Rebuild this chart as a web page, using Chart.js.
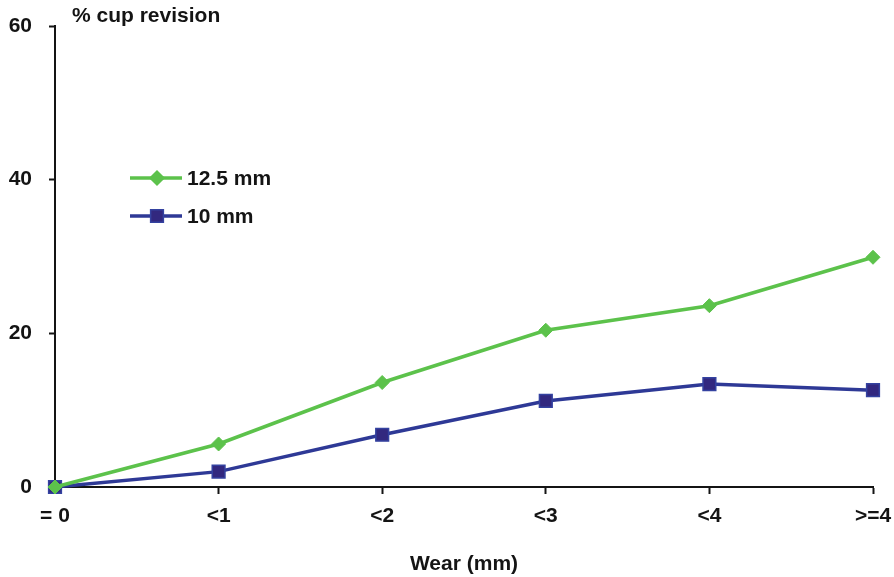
<!DOCTYPE html>
<html>
<head>
<meta charset="utf-8">
<script src="https://cdn.jsdelivr.net/npm/chart.js@4/dist/chart.umd.min.js"></script>
<style>
  html, body { margin: 0; padding: 0; background: #ffffff; }
  #wrap { width: 894px; height: 577px; position: relative; }
</style>
</head>
<body>
<div id="wrap"><canvas id="c" width="894" height="577"></canvas></div>
<script>
// Wear categories along the x axis
const wearCategories = ['= 0', '<1', '<2', '<3', '<4', '>=4'];
// Percentage of cups revised, per head size
const revision125 = [0, 5.6, 13.6, 20.4, 23.6, 29.9];
const revision10 = [0, 2.0, 6.8, 11.2, 13.4, 12.6];
// Y axis tick values
const yTicks = [0, 20, 40, 60];

const seriesNames = ['12.5 mm', '10 mm'];
const yTitle = '% cup revision';
const xTitle = 'Wear (mm)';

const FONT = '"Liberation Sans", Arial, Helvetica, sans-serif';
const TEXT = '#141414';
const GREEN = '#5cc24b';
const BLUE_LINE = '#2e3996';
const BLUE_FILL = '#32287f';
const BLUE_EDGE = '#3442a0';

// Titles and the inset legend
const annotations = {
  id: 'annotations',
  afterDraw(chart) {
    const ctx = chart.ctx;
    ctx.save();
    ctx.fillStyle = TEXT;
    ctx.font = 'bold 21px ' + FONT;
    ctx.textBaseline = 'alphabetic';
    ctx.textAlign = 'left';
    ctx.fillText(yTitle, 72, 22);
    ctx.textAlign = 'center';
    const xs = chart.scales.x;
    ctx.fillText(xTitle, (xs.left + xs.right) / 2, 570);

    // legend entries
    const entries = [
      { name: seriesNames[0], y: 178, color: GREEN, style: 'rectRot', fill: GREEN, edge: GREEN, r: 7 },
      { name: seriesNames[1], y: 216, color: BLUE_LINE, style: 'rect', fill: BLUE_FILL, edge: BLUE_EDGE, r: 9 }
    ];
    entries.forEach(e => {
      ctx.strokeStyle = e.color;
      ctx.lineWidth = 3.5;
      ctx.beginPath();
      ctx.moveTo(130, e.y);
      ctx.lineTo(182, e.y);
      ctx.stroke();
      ctx.fillStyle = e.fill;
      ctx.strokeStyle = e.edge;
      ctx.lineWidth = 1.5;
      Chart.helpers.drawPoint(ctx, { pointStyle: e.style, radius: e.r, borderWidth: 1.5, rotation: 0 }, 157, e.y);
      ctx.fillStyle = TEXT;
      ctx.font = 'bold 21px ' + FONT;
      ctx.textAlign = 'left';
      ctx.textBaseline = 'middle';
      ctx.fillText(e.name, 187, e.y + 1);
    });
    ctx.restore();
  }
};

new Chart(document.getElementById('c'), {
  type: 'line',
  data: {
    labels: wearCategories,
    datasets: [
      {
        label: seriesNames[0],
        data: revision125,
        borderColor: GREEN,
        backgroundColor: GREEN,
        borderWidth: 3.5,
        pointStyle: 'rectRot',
        pointRadius: 7,
        pointBorderWidth: 1,
        pointBackgroundColor: GREEN,
        pointBorderColor: GREEN,
        tension: 0,
        clip: false
      },
      {
        label: seriesNames[1],
        data: revision10,
        borderColor: BLUE_LINE,
        backgroundColor: BLUE_FILL,
        borderWidth: 3.5,
        pointStyle: 'rect',
        pointRadius: 9,
        pointBorderWidth: 1.5,
        pointBackgroundColor: BLUE_FILL,
        pointBorderColor: BLUE_EDGE,
        tension: 0,
        clip: false
      }
    ]
  },
  options: {
    responsive: false,
    animation: false,
    devicePixelRatio: 1,
    layout: { padding: { left: 0, right: 21, top: 26, bottom: 0 } },
    plugins: {
      legend: { display: false },
      tooltip: { enabled: false }
    },
    scales: {
      x: {
        offset: false,
        afterFit(scale) {
          scale.height = 90;
          scale.paddingLeft = 0;
          scale.paddingRight = 0;
        },
        grid: {
          drawOnChartArea: false,
          drawTicks: true,
          tickLength: 7,
          tickWidth: 2,
          tickColor: TEXT
        },
        border: { display: true, color: TEXT, width: 2 },
        ticks: {
          color: TEXT,
          font: { family: FONT, size: 21, weight: 'bold' },
          padding: 10,
          maxRotation: 0,
          autoSkip: false
        }
      },
      y: {
        min: 0,
        max: 60,
        afterFit(scale) {
          scale.width = 55;
          scale.paddingTop = 0;
          scale.paddingBottom = 0;
        },
        afterBuildTicks(scale) { scale.ticks = yTicks.map(v => ({ value: v })); },
        grid: {
          drawOnChartArea: false,
          drawTicks: true,
          tickLength: 6,
          tickWidth: 2,
          tickColor: TEXT
        },
        border: { display: true, color: TEXT, width: 2 },
        ticks: {
          color: TEXT,
          font: { family: FONT, size: 21, weight: 'bold' },
          padding: 17
        }
      }
    }
  },
  plugins: [annotations]
});
</script>
</body>
</html>
